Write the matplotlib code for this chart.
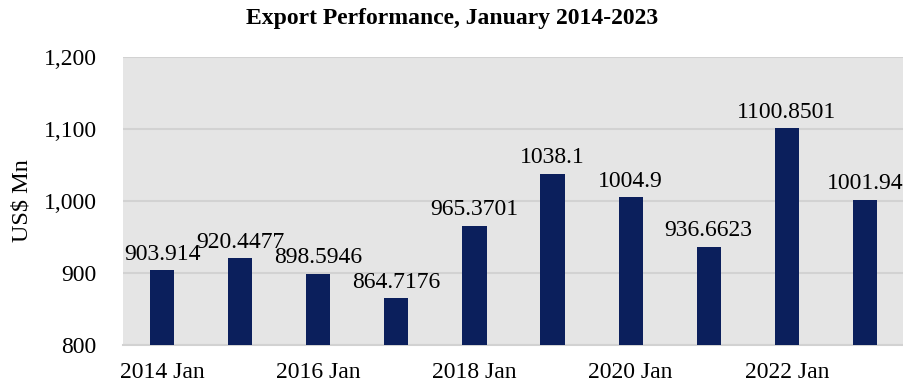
import numpy as np
import matplotlib.pyplot as plt
from matplotlib.ticker import FuncFormatter

plt.rcParams['font.family'] = ['Liberation Serif', 'DejaVu Serif']

# January export values, 2014-2023
years = ['2014 Jan', '2015 Jan', '2016 Jan', '2017 Jan', '2018 Jan',
         '2019 Jan', '2020 Jan', '2021 Jan', '2022 Jan', '2023 Jan']
values = [903.914, 920.4477, 898.5946, 864.7176, 965.3701,
          1038.1, 1004.9, 936.6623, 1100.8501, 1001.94]
labels = ['903.914', '920.4477', '898.5946', '864.7176', '965.3701',
          '1038.1', '1004.9', '936.6623', '1100.8501', '1001.94']

fig = plt.figure(figsize=(9.04, 3.82), dpi=100)
ax = fig.add_axes([123 / 904, 37 / 382, 781 / 904, 288 / 382])
ax.set_facecolor('#e5e5e5')

x = np.arange(len(values))
ax.bar(x, values, width=0.31, color='#0b1f5c', zorder=3)

for xi, v, lab in zip(x, values, labels):
    ax.annotate(lab, (xi, v), xytext=(0, 4), textcoords='offset points',
                ha='center', va='bottom', fontsize=17, zorder=4)

ax.set_ylim(800, 1200)
ax.set_xlim(-0.5, len(values) - 0.5)
ax.set_yticks([800, 900, 1000, 1100, 1200])
ax.yaxis.set_major_formatter(FuncFormatter(lambda v, p: f'{int(v):,}'))
ax.set_xticks(x[::2])
ax.set_xticklabels(years[::2])
ax.tick_params(axis='both', length=0, labelsize=17)
ax.tick_params(axis='y', pad=19)
ax.tick_params(axis='x', pad=12)

ax.grid(axis='y', color='#d2d2d2', linewidth=1.5, zorder=0)
for s in ['top', 'right', 'left']:
    ax.spines[s].set_visible(False)
ax.spines['bottom'].set_color('#d2d2d2')
ax.spines['bottom'].set_linewidth(1.5)

ax.set_ylabel('US$ Mn', fontsize=17.5, labelpad=8)
fig.text(0.5, 0.952, 'Export Performance, January 2014-2023', ha='center',
         va='center', fontsize=17, fontweight='bold')

fig.savefig('out.png', dpi=100)
